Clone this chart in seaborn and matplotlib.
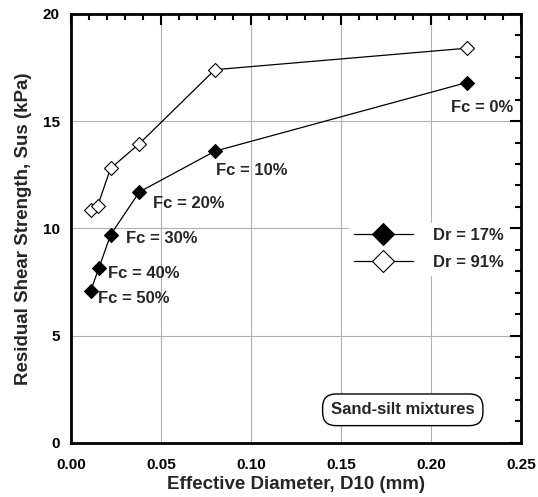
import numpy as np
import pandas as pd
import matplotlib
matplotlib.use('Agg')
import matplotlib.pyplot as plt
from matplotlib.ticker import MultipleLocator
import seaborn as sns

# ── Données ──────────────────────────────────────────────────────────────────
d10_loose = [0.011, 0.0155, 0.022, 0.038, 0.080, 0.220]
sus_loose = [7.1, 8.15, 9.7, 11.7, 13.6, 16.8]
d10_dense = [0.011, 0.0148, 0.022, 0.038, 0.080, 0.220]
sus_dense = [10.85, 11.05, 12.8, 13.95, 17.4, 18.4]
fc_labels = ['Fc = 50%', 'Fc = 40%', 'Fc = 30%', 'Fc = 20%', 'Fc = 10%', 'Fc = 0%']
# décalages des étiquettes (en points)
fc_offsets = [(5, -6), (6.5, -3.6), (11, -3), (10, -8), (0.7, -13.7), (-11.5, -18)]

sns.set_theme(style='white')
plt.rcParams['font.family'] = ['Liberation Sans', 'DejaVu Sans']
plt.rcParams['font.weight'] = 'bold'

fig = plt.figure(figsize=(5.38, 4.97), dpi=100)
ax = fig.add_axes([0.132, 0.109, 0.836, 0.863])

df = pd.DataFrame({
    'D10': d10_loose + d10_dense,
    'Sus': sus_loose + sus_dense,
    'Dr': ['Dr = 17%'] * len(d10_loose) + ['Dr = 91%'] * len(d10_dense),
})

for name, fc in [('Dr = 17%', 'black'), ('Dr = 91%', 'white')]:
    sub = df[df['Dr'] == name]
    sns.lineplot(data=sub, x='D10', y='Sus', ax=ax, sort=False, color='black',
                 linewidth=0.9, marker='D', markersize=7.5, markerfacecolor=fc,
                 markeredgecolor='black', markeredgewidth=0.8, label=name, zorder=3)

for x, y, lab, off in zip(d10_loose, sus_loose, fc_labels, fc_offsets):
    ax.annotate(lab, (x, y), xytext=off, textcoords='offset points',
                fontsize=12, fontweight='bold', ha='left', va='center')

ax.set_xlim(0, 0.25)
ax.set_ylim(0, 20)
ax.xaxis.set_major_locator(MultipleLocator(0.05))
ax.xaxis.set_minor_locator(MultipleLocator(0.01))
ax.yaxis.set_major_locator(MultipleLocator(5))
ax.yaxis.set_minor_locator(MultipleLocator(1))
ax.xaxis.set_major_formatter(plt.FuncFormatter(lambda v, p: f'{v:.2f}'))
ax.tick_params(which='both', direction='in', top=True, right=True, width=1.5,
               colors='black', labelsize=11)
ax.tick_params(which='major', length=8)
ax.tick_params(which='minor', length=4)
ax.tick_params(axis='x', which='major', pad=11)
ax.tick_params(axis='y', which='major', pad=8)
for lab in ax.get_xticklabels() + ax.get_yticklabels():
    lab.set_fontweight('bold')
for sp in ax.spines.values():
    sp.set_linewidth(2)
    sp.set_color('black')
ax.grid(True, which='major', color='#b0b0b0', linewidth=0.8)
ax.set_axisbelow(True)

ax.set_xlabel('Effective Diameter, D10 (mm)', fontsize=13.5, fontweight='bold', labelpad=3)
ax.set_ylabel('Residual Shear Strength, Sus (kPa)', fontsize=13.5, fontweight='bold', labelpad=8)

leg = ax.legend(loc='center left', bbox_to_anchor=(0.6, 0.452), frameon=True,
                edgecolor='white', facecolor='white', framealpha=1, fancybox=False,
                handlelength=3.5, handletextpad=1.2, fontsize=12, borderpad=0.3,
                labelspacing=0.75, markerscale=1.5)
for t in leg.get_texts():
    t.set_fontweight('bold')

ax.text(0.1844, 1.54, 'Sand-silt mixtures', fontsize=12, fontweight='bold',
        ha='center', va='center',
        bbox=dict(boxstyle='round,pad=0.5,rounding_size=0.8', fc='white', ec='black', lw=1))

fig.savefig('out.png', dpi=100)
